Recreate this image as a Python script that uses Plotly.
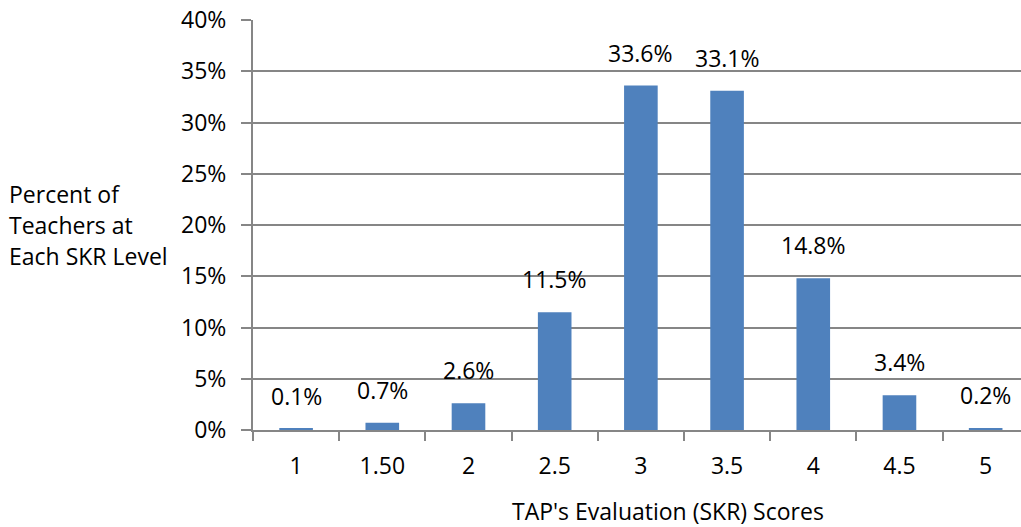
import plotly.graph_objects as go

categories = ["1", "1.50", "2", "2.5", "3", "3.5", "4", "4.5", "5"]
values = [0.1, 0.7, 2.6, 11.5, 33.6, 33.1, 14.8, 3.4, 0.2]
labels = ["0.1%", "0.7%", "2.6%", "11.5%", "33.6%", "33.1%", "14.8%", "3.4%", "0.2%"]
y_ticks = [0, 5, 10, 15, 20, 25, 30, 35, 40]
y_ticktext = ["0%", "5%", "10%", "15%", "20%", "25%", "30%", "35%", "40%"]
y_title_lines = ["Percent of", "Teachers at", "Each SKR Level"]
x_title = "TAP's Evaluation (SKR) Scores"

FONT = "Open Sans"
FS = 23
GRID = "#868686"
TOP, BOTTOM = 20, 430
PH = BOTTOM - TOP

fig = go.Figure()
fig.add_trace(go.Bar(
    x=list(range(len(categories))), y=values,
    marker=dict(color="#4F81BD", line=dict(width=0)),
    width=0.39,
))

for i, (v, t) in enumerate(zip(values, labels)):
    fig.add_annotation(x=i, y=v, text=t, showarrow=False, yanchor="bottom",
                       yshift=15, font=dict(family=FONT, size=FS, color="#000000"))

for k, line in enumerate(y_title_lines):
    py = 194 + 31 * k
    fig.add_annotation(xref="paper", yref="paper", x=0, xanchor="left",
                       y=(BOTTOM - py) / PH, yanchor="middle",
                       text=line, align="left", showarrow=False, xshift=-246,
                       font=dict(family=FONT, size=FS, color="#000000"))

fig.add_annotation(xref="paper", yref="paper", x=0, xanchor="center",
                   y=(BOTTOM - 511) / PH, yanchor="middle",
                   text=x_title, showarrow=False, xshift=668 - 253,
                   font=dict(family=FONT, size=FS, color="#000000"))

fig.update_layout(
    width=1021, height=527,
    margin=dict(l=253, r=0, t=TOP, b=527 - BOTTOM, autoexpand=False),
    paper_bgcolor="white", plot_bgcolor="white",
    showlegend=False,
    font=dict(family=FONT, size=FS, color="#000000"),
)
fig.update_xaxes(
    range=[-0.5, 8.41], tickmode="array",
    tickvals=list(range(len(categories))), ticktext=categories,
    ticks="", showgrid=False, automargin=False,
    showline=True, linecolor=GRID, linewidth=2,
    tickfont=dict(family=FONT, size=FS, color="#000000"),
    ticklabelstandoff=14,
)
fig.update_yaxes(
    range=[0, 40], tickvals=y_ticks, ticktext=y_ticktext,
    ticks="outside", ticklen=10, tickcolor=GRID, tickwidth=2,
    showline=True, linecolor=GRID, linewidth=2, automargin=False,
    showgrid=True, gridcolor=GRID, gridwidth=2, zeroline=False,
    tickfont=dict(family=FONT, size=FS, color="#000000"),
    ticklabelstandoff=10,
)
# boundary ticks between categories on the x axis
fig.update_xaxes(minor=dict(tickmode="array",
                            tickvals=[i + 0.5 for i in range(-1, len(categories))],
                            ticks="outside", ticklen=9, tickcolor=GRID, tickwidth=2,
                            showgrid=False))

fig.write_html("out.html", config={"displayModeBar": False},
               post_script="document.body.style.margin='0';document.body.style.overflow='hidden';")
